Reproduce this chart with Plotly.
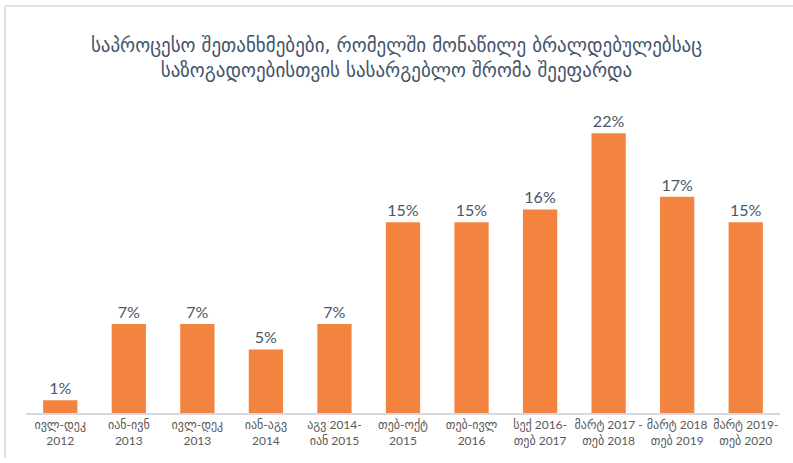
import plotly.graph_objects as go

categories = [
    "ივლ-დეკ<br>2012",
    "იან-ივნ<br>2013",
    "ივლ-დეკ<br>2013",
    "იან-აგვ<br>2014",
    "აგვ 2014-<br>იან 2015",
    "თებ-ოქტ<br>2015",
    "თებ-ივლ<br>2016",
    "სექ 2016-<br>თებ 2017",
    "მარტ 2017 -<br>თებ 2018",
    "მარტ 2018<br>თებ 2019",
    "მარტ 2019-<br>თებ 2020",
]
values = [1, 7, 7, 5, 7, 15, 15, 16, 22, 17, 15]
labels = [f"{v}%" for v in values]
title_text = ("საპროცესო შეთანხმებები, რომელში მონაწილე ბრალდებულებსაც<br>"
              "საზოგადოებისთვის სასარგებლო შრომა შეეფარდა")

W, H = 793, 463
ml, mr, mt, mb = 26, 13, 95, 50

fig = go.Figure()
fig.add_trace(go.Bar(
    x=categories,
    y=values,
    text=labels,
    textposition="outside",
    cliponaxis=False,
    textfont=dict(family="Lato, DejaVu Sans", size=16, color="#4A5568"),
    marker=dict(color="#F2843F", line=dict(width=0)),
    width=0.5,
))

# light frame (left + top edges)
fig.add_shape(type="line", xref="paper", yref="paper",
              x0=(5 - ml) / (W - ml - mr), x1=(5 - ml) / (W - ml - mr),
              y0=(H - mb - 6) / (H - mt - mb), y1=(H - mb - 458) / (H - mt - mb),
              line=dict(color="#D5DAE2", width=1.5))
fig.add_shape(type="line", xref="paper", yref="paper",
              x0=(5 - ml) / (W - ml - mr), x1=(W - ml) / (W - ml - mr),
              y0=(H - mb - 6) / (H - mt - mb), y1=(H - mb - 6) / (H - mt - mb),
              line=dict(color="#D5DAE2", width=1.5))

fig.update_layout(
    width=W, height=H,
    margin=dict(l=ml, r=mr, t=mt, b=mb),
    paper_bgcolor="white", plot_bgcolor="white",
    showlegend=False,
    title=dict(
        text=title_text,
        x=0.5, xanchor="center", y=0.888, yanchor="middle",
        font=dict(family="DejaVu Sans", size=19, color="#44546A"),
    ),
    xaxis=dict(
        showgrid=False, zeroline=False, automargin=False,
        showline=True, linecolor="#D5DAE2", linewidth=2,
        ticks="", tickfont=dict(family="Lato, DejaVu Sans", size=12, color="#595959"),
        tickangle=0,
    ),
    yaxis=dict(range=[0, 25], visible=False, showgrid=False, zeroline=False),
    bargap=0.5,
)

fig.write_html("out.html",
               config={"displayModeBar": False},
               post_script="document.body.style.margin='0';document.body.style.overflow='hidden';")
